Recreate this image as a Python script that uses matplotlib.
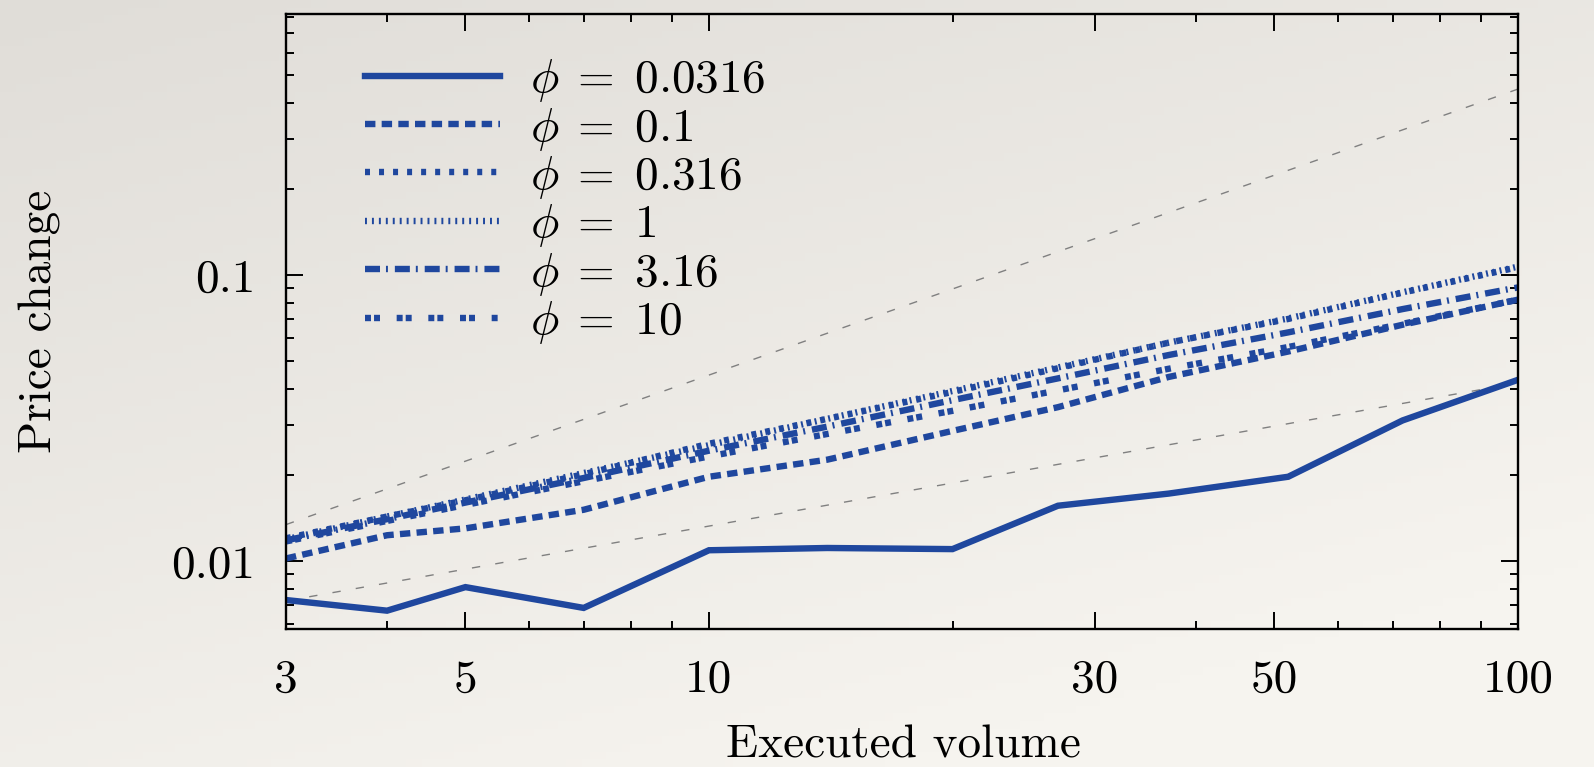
import matplotlib
matplotlib.use("Agg")
import matplotlib.pyplot as plt
import numpy as np
from matplotlib.ticker import FixedLocator, FixedFormatter, NullFormatter

# executed volume (x) and price change for each phi
volume = [3, 4, 5, 7, 10, 14, 20, 27, 37, 52, 72, 100]
phi_labels = ["0.0316", "0.1", "0.316", "1", "3.16", "10"]
price_0316 = [0.0073, 0.0067, 0.0081, 0.00685, 0.0109, 0.0111, 0.0110, 0.0156, 0.0172, 0.0197, 0.0310, 0.0430]
price_01 = [0.0102, 0.0123, 0.0130, 0.0151, 0.0197, 0.0226, 0.0285, 0.0345, 0.0440, 0.0540, 0.0670, 0.0820]
price_0316b = [0.0120, 0.0143, 0.0163, 0.0201, 0.0257, 0.0314, 0.0390, 0.0472, 0.0580, 0.0702, 0.0868, 0.1065]
price_1 = [0.0119, 0.0143, 0.0164, 0.0203, 0.0254, 0.0314, 0.0393, 0.0475, 0.0580, 0.0705, 0.0870, 0.1070]
price_316 = [0.0118, 0.0140, 0.0160, 0.0195, 0.0243, 0.0295, 0.0365, 0.0435, 0.0525, 0.0630, 0.0760, 0.0905]
price_10 = [0.0117, 0.0138, 0.0157, 0.0190, 0.0232, 0.0278, 0.0335, 0.0395, 0.0470, 0.0560, 0.0675, 0.0820]

# guide lines (slope 1 and slope 1/2)
guide_x = [3, 100]
guide_lin = [0.0134, 0.447]
guide_sqrt = [0.00725, 0.0419]

xticks = [3, 5, 10, 30, 50, 100]
xminor = [4, 6, 7, 8, 9, 20, 40, 60, 70, 80, 90]
yticks = [0.01, 0.1]
yminor = [0.006, 0.007, 0.008, 0.009, 0.02, 0.03, 0.04, 0.05, 0.06, 0.07, 0.08, 0.09,
          0.2, 0.3, 0.4, 0.5, 0.6, 0.7, 0.8]

blue = "#1f479e"

plt.rcParams["font.family"] = "serif"
plt.rcParams["font.serif"] = ["cmr10"]
plt.rcParams["mathtext.fontset"] = "cm"
plt.rcParams["axes.formatter.use_mathtext"] = True
plt.rcParams["lines.scale_dashes"] = False


def main():
    fig = plt.figure(figsize=(15.94, 7.67), dpi=100)

    # paper-like background gradient
    bg = fig.add_axes([0, 0, 1, 1], zorder=-10)
    gx, gy = np.meshgrid(np.linspace(0, 1, 200), np.linspace(0, 1, 100))
    t = np.clip(0.45 * gx + 0.75 * gy, 0, 1)
    c0 = np.array([224, 221, 216]) / 255.0
    c1 = np.array([246, 244, 239]) / 255.0
    img = c0[None, None, :] * (1 - t[..., None]) + c1[None, None, :] * t[..., None]
    bg.imshow(img, aspect="auto", extent=[0, 1, 0, 1], origin="upper")
    bg.axis("off")

    ax = fig.add_axes([0.1794, 0.1799, 0.7729, 0.8018])
    ax.patch.set_alpha(0)

    ax.plot(guide_x, guide_lin, color="#808080", lw=1.0, dashes=(6, 11))
    ax.plot(guide_x, guide_sqrt, color="#808080", lw=1.0, dashes=(6, 11))

    lw = 4.6
    fmt = r"$\phi\;=\;%s$"
    ax.plot(volume, price_0316, color=blue, lw=lw, solid_joinstyle="miter",
            label=fmt % phi_labels[0])
    ax.plot(volume, price_01, color=blue, lw=lw, dashes=(7.5, 4.5),
            label=fmt % phi_labels[1])
    ax.plot(volume, price_0316b, color=blue, lw=lw, dashes=(3.6, 6.5),
            label=fmt % phi_labels[2])
    ax.plot(volume, price_1, color=blue, lw=lw, dashes=(1.4, 3.6),
            label=fmt % phi_labels[3])
    ax.plot(volume, price_316, color=blue, lw=lw, dashes=(10.8, 4.3, 1.4, 5.0),
            label=fmt % phi_labels[4])
    ax.plot(volume, price_10, color=blue, lw=lw, dashes=(4.3, 2.2, 4.3, 12.0),
            label=fmt % phi_labels[5])

    ax.set_xscale("log")
    ax.set_yscale("log")
    ax.set_xlim(3, 100)
    ax.set_ylim(0.00578, 0.818)

    ax.xaxis.set_major_locator(FixedLocator(xticks))
    ax.xaxis.set_major_formatter(FixedFormatter([str(v) for v in xticks]))
    ax.xaxis.set_minor_locator(FixedLocator(xminor))
    ax.xaxis.set_minor_formatter(NullFormatter())
    ax.yaxis.set_major_locator(FixedLocator(yticks))
    ax.yaxis.set_major_formatter(FixedFormatter(["0.01", "0.1"]))
    ax.yaxis.set_minor_locator(FixedLocator(yminor))
    ax.yaxis.set_minor_formatter(NullFormatter())

    ax.tick_params(which="both", direction="in", top=True, right=True, width=1.4,
                   labelsize=34, pad=22)
    ax.tick_params(which="major", length=12.5)
    ax.tick_params(which="minor", length=6)
    for s in ax.spines.values():
        s.set_linewidth(1.7)

    fig.text(40 / 1594, 1 - 321 / 767, "Price change", rotation=90,
             ha="center", va="center", fontsize=34)
    fig.text(903 / 1594, 1 - 746 / 767, "Executed volume",
             ha="center", va="center", fontsize=34)

    ax.legend(loc="upper left", bbox_to_anchor=(0.064, 0.93), frameon=False,
              fontsize=34, borderpad=0, borderaxespad=0, handlelength=2.86,
              handletextpad=0.64, labelspacing=0.03)

    fig.savefig("out.png", dpi=100)


if __name__ == "__main__":
    main()
